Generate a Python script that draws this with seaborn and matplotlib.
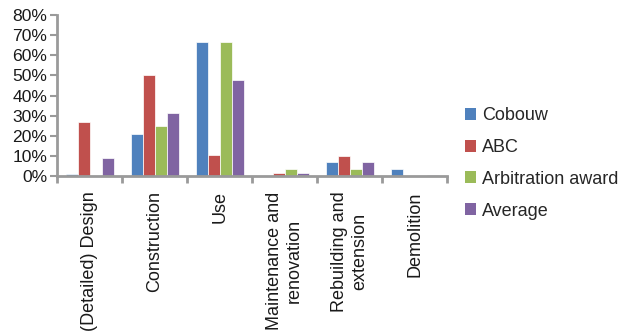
import matplotlib
matplotlib.use('Agg')
import matplotlib.pyplot as plt
from matplotlib.ticker import FixedLocator, PercentFormatter
import pandas as pd
import seaborn as sns

# phases of the building process
phases = ['(Detailed) Design', 'Construction', 'Use',
          'Maintenance and\nrenovation', 'Rebuilding and\nextension', 'Demolition']

# share of cases per source (%)
cobouw = [1.0, 20.8, 66.8, 0.0, 7.0, 3.6]
abc = [26.7, 50.0, 10.5, 1.4, 10.0, 0.0]
arbitration = [0.0, 24.8, 66.8, 3.6, 3.6, 0.0]
average = [9.2, 31.5, 47.7, 1.4, 7.0, 0.6]

sources = ['Cobouw', 'ABC', 'Arbitration award', 'Average']
colors = ['#4F81BD', '#C0504D', '#9BBB59', '#8064A2']

rows = []
for name, vals in zip(sources, [cobouw, abc, arbitration, average]):
    for ph, v in zip(phases, vals):
        rows.append({'phase': ph, 'source': name, 'share': v})
df = pd.DataFrame(rows)

sns.set_style('white')
plt.rcParams['font.family'] = ['Liberation Sans', 'DejaVu Sans']

fig = plt.figure(figsize=(6.21, 3.36), dpi=100)
ax = fig.add_axes([0.092, 0.476, 0.628, 0.479])

sns.barplot(data=df, x='phase', y='share', hue='source', order=phases,
            hue_order=sources, palette=colors, width=0.74, saturation=1,
            edgecolor='white', linewidth=0.5, ax=ax)

ax.set_ylim(0, 80)
ax.set_xlim(-0.5, len(phases) - 0.5)
ax.yaxis.set_major_locator(FixedLocator(range(0, 81, 10)))
ax.yaxis.set_major_formatter(PercentFormatter(decimals=0))
ax.set_xlabel('')
ax.set_ylabel('')

grey = '#9A9A9A'
for side in ['top', 'right']:
    ax.spines[side].set_visible(False)
for side in ['left', 'bottom']:
    ax.spines[side].set_color(grey)
    ax.spines[side].set_linewidth(2)

ax.tick_params(axis='y', labelsize=12.6, length=5, width=1.5, color=grey,
               left=True, pad=2, labelcolor='#1a1a1a')
ax.tick_params(axis='x', which='major', length=0, labelsize=13, pad=11,
               labelrotation=90, labelcolor='#1a1a1a')
ax.xaxis.set_minor_locator(FixedLocator([i - 0.5 for i in range(len(phases) + 1)]))
ax.tick_params(axis='x', which='minor', length=5, width=2, color=grey, bottom=True)
for lbl in ax.get_xticklabels():
    lbl.set_ha('center')
    lbl.set_va('top')
    lbl.set_multialignment('center')

leg = ax.legend(loc='center left', bbox_to_anchor=(1.003, 0.079), frameon=False,
                fontsize=13, handlelength=0.65, handleheight=0.65,
                handletextpad=0.3, labelspacing=0.82)
for h in leg.legend_handles:
    h.set_edgecolor('none')

fig.savefig('out.png', dpi=100)
